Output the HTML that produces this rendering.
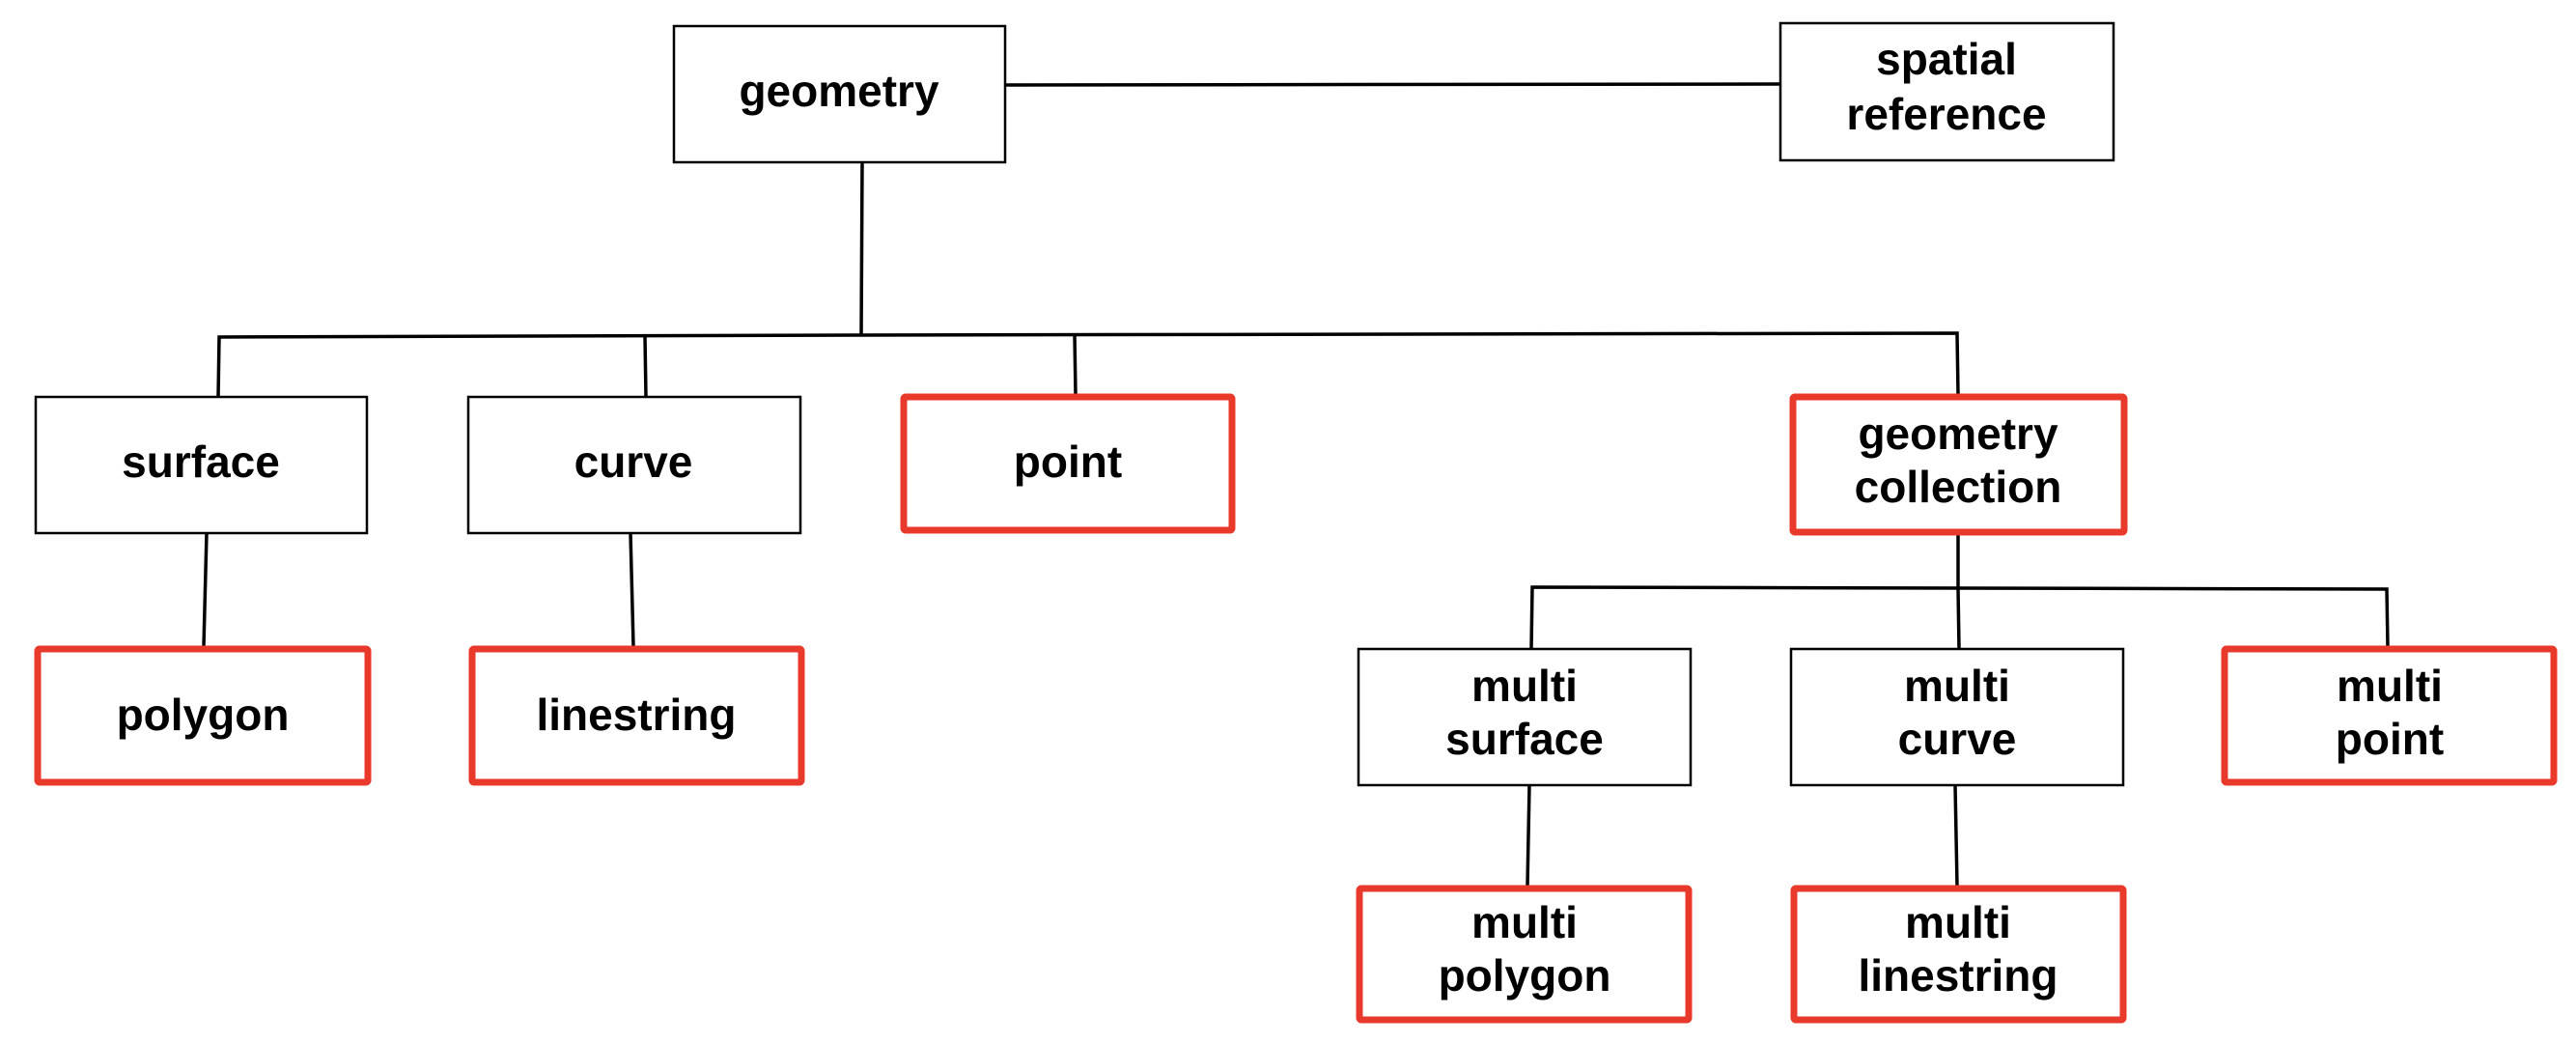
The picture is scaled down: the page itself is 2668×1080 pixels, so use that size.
<!DOCTYPE html>
<html><head><meta charset="utf-8"><style>
html,body{margin:0;padding:0;background:#fff;}
svg{display:block;}
text{font-family:"Liberation Sans",Arial,sans-serif;font-weight:bold;font-size:46px;fill:#000;text-anchor:middle;}
</style></head><body>
<svg width="2668" height="1080" viewBox="0 0 2668 1080" xmlns="http://www.w3.org/2000/svg">
<g stroke="#000" stroke-width="3.5" fill="none">
<line x1="1042" y1="88" x2="1844" y2="87"/>
<line x1="893" y1="168" x2="892" y2="347"/>
<polyline points="226,411 227,349 893,347 2027,345 2028,408"/>
<line x1="668" y1="349" x2="669" y2="411"/>
<line x1="1113" y1="347" x2="1114" y2="408"/>
<line x1="214" y1="552" x2="211" y2="669"/>
<line x1="653" y1="552" x2="656" y2="669"/>
<line x1="2028" y1="554" x2="2028" y2="609"/>
<polyline points="1586,672 1587,608 2472,610 2473,669"/>
<line x1="2028" y1="609" x2="2029" y2="672"/>
<line x1="1584" y1="813" x2="1582" y2="917"/>
<line x1="2025" y1="813" x2="2027" y2="917"/>
</g>
<g stroke="#000" stroke-width="2.5" fill="#fff">
<rect x="698" y="27" width="343" height="141"/>
<rect x="1844" y="24" width="345" height="142"/>
<rect x="37" y="411" width="343" height="141"/>
<rect x="485" y="411" width="344" height="141"/>
<rect x="1407" y="672" width="344" height="141"/>
<rect x="1855" y="672" width="344" height="141"/>
</g>
<g stroke="#e8392b" stroke-width="7" fill="#fff">
<rect x="936" y="411" width="340" height="138" rx="2"/>
<rect x="39" y="672" width="342" height="138" rx="2"/>
<rect x="489" y="672" width="341" height="138" rx="2"/>
<rect x="1857" y="411" width="343" height="140" rx="2"/>
<rect x="2304" y="672" width="341" height="138" rx="2"/>
<rect x="1408" y="920" width="341" height="136" rx="2"/>
<rect x="1858" y="920" width="341" height="136" rx="2"/>
</g>
<text x="869" y="110">geometry</text>
<text x="2016" y="77">spatial</text>
<text x="2016" y="134">reference</text>
<text x="208" y="494">surface</text>
<text x="656" y="494">curve</text>
<text x="1106" y="494">point</text>
<text x="2028" y="465">geometry</text>
<text x="2028" y="520">collection</text>
<text x="210" y="756">polygon</text>
<text x="659" y="756">linestring</text>
<text x="1579" y="726">multi</text>
<text x="1579" y="781">surface</text>
<text x="2027" y="726">multi</text>
<text x="2027" y="781">curve</text>
<text x="2475" y="726">multi</text>
<text x="2475" y="781">point</text>
<text x="1579" y="971">multi</text>
<text x="1579" y="1026">polygon</text>
<text x="2028" y="971">multi</text>
<text x="2028" y="1026">linestring</text>
</svg>
</body></html>
